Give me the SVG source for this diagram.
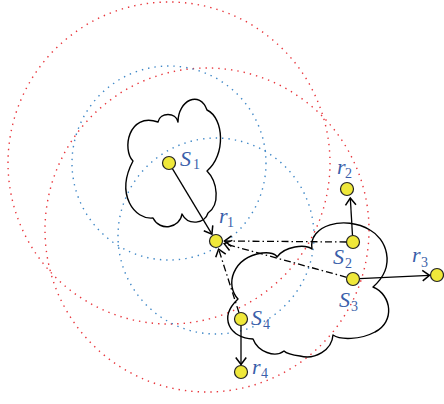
<svg xmlns="http://www.w3.org/2000/svg" width="444" height="404" viewBox="0 0 444 404">
<style>
.red{fill:none;stroke:#e8353b;stroke-width:1.4;stroke-dasharray:1.4 5}
.blue{fill:none;stroke:#3d86c6;stroke-width:1.4;stroke-dasharray:1.4 5}
.cloud{fill:none;stroke:#000;stroke-width:1.4;stroke-linejoin:round}
.arr{fill:none;stroke:#000;stroke-width:1.3;marker-end:url(#ah)}
.dd{fill:none;stroke:#000;stroke-width:1.3;stroke-dasharray:7 3 1.5 3;marker-end:url(#ah)}
.node{fill:#efe83a;stroke:#222;stroke-width:1.2}
.lab{font-family:"Liberation Serif",serif;font-style:italic;font-size:22px;fill:#3b5faa}
.sub{font-family:"Liberation Serif",serif;font-size:14px;fill:#3b5faa}
</style>
<defs>
<marker id="ah" markerUnits="userSpaceOnUse" markerWidth="14" markerHeight="14" refX="0" refY="0" viewBox="-8 -6 10 12" orient="auto">
<path d="M-6,-4.5 L0,0 L-6,4.5" fill="none" stroke="#000" stroke-width="1.3"/>
</marker>
</defs>
<g id="ranges">
<circle class="red" cx="169" cy="163" r="161"/>
<circle class="red" cx="207" cy="230" r="162"/>
<circle class="blue" cx="169" cy="163" r="97"/>
<circle class="blue" cx="216" cy="236" r="98"/>
</g>
<g id="cloud1">
<path class="cloud" d="M178,122 C178,100 200,90 207,110 C224,118 226,155 207,171 C218,182 220,205 208,213 C205,224 188,226 182,214 C180,228 160,232 153,218 C135,220 115,195 133,161 C122,150 128,112 158,122 C160,112 176,112 178,122 Z"/>
</g>
<g id="cloud2">
<path class="cloud" d="M312,249 C308,225 345,215 370,230 C385,238 398,265 373,287 C392,295 395,322 375,332 C360,340 340,340 333,335 C332,350 315,360 300,356 C292,355 286,353 284,351 C275,358 258,352 253,339 C230,338 218,318 238,299 C225,285 232,258 262,253 C270,252 276,254 277,257 C285,246 305,244 312,249 Z"/>
</g>
<g id="connectors">
<line class="arr" x1="172.4" y1="168.6" x2="211.9" y2="234.1"/>
<line class="dd" x1="346.5" y1="242" x2="224.5" y2="241"/>
<line class="dd" x1="346.7" y1="277.3" x2="224.2" y2="243.6"/>
<line class="dd" x1="239" y1="312.8" x2="218.6" y2="249.1"/>
<line class="arr" x1="352.5" y1="235.5" x2="350.3" y2="198"/>
<line class="arr" x1="359.5" y1="278.7" x2="429.5" y2="275.3"/>
<line class="arr" x1="241" y1="325.5" x2="241" y2="364.5"/>
</g>
<g id="S1"><circle class="node" cx="169" cy="163" r="6.5"/><text class="lab" x="180" y="166">S</text><text class="sub" x="193" y="169">1</text></g>
<g id="r1"><circle class="node" cx="216" cy="241" r="6.5"/><text class="lab" x="219" y="223">r</text><text class="sub" x="227" y="227">1</text></g>
<g id="S2"><circle class="node" cx="353" cy="242" r="6.5"/><text class="lab" x="333" y="264">S</text><text class="sub" x="345" y="268">2</text></g>
<g id="r2"><circle class="node" cx="347" cy="189" r="6.5"/><text class="lab" x="337" y="174">r</text><text class="sub" x="345" y="178">2</text></g>
<g id="S3"><circle class="node" cx="353" cy="279" r="6.5"/><text class="lab" x="339" y="307">S</text><text class="sub" x="351" y="311">3</text></g>
<g id="r3"><circle class="node" cx="437" cy="275" r="6.5"/><text class="lab" x="412" y="262">r</text><text class="sub" x="421" y="267">3</text></g>
<g id="S4"><circle class="node" cx="241" cy="319" r="6.5"/><text class="lab" x="251" y="325">S</text><text class="sub" x="263" y="329">4</text></g>
<g id="r4"><circle class="node" cx="241" cy="372" r="6.5"/><text class="lab" x="252" y="374">r</text><text class="sub" x="261" y="378">4</text></g>
</svg>
